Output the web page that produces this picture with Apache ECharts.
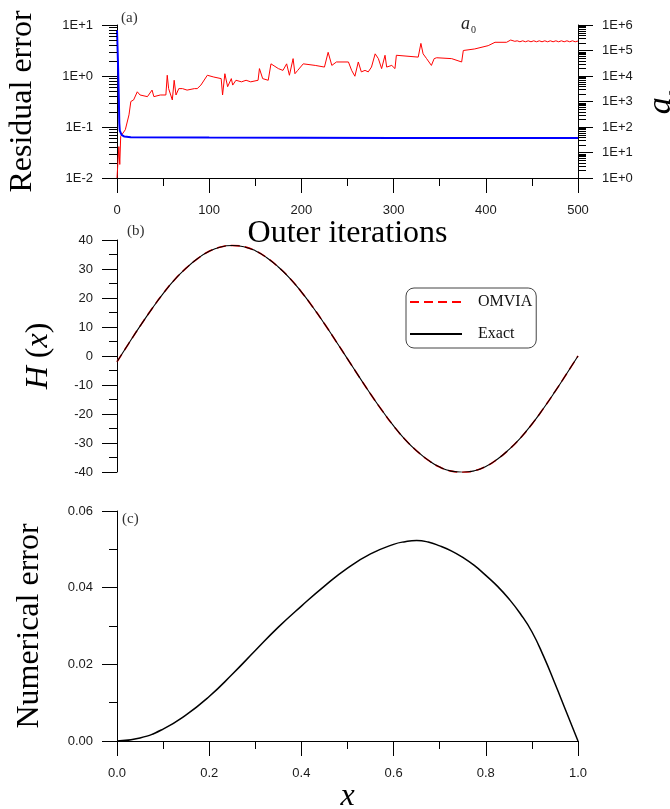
<!DOCTYPE html>
<html>
<head>
<meta charset="utf-8">
<script src="https://cdn.jsdelivr.net/npm/echarts@6/dist/echarts.min.js"></script>
<style>
html, body { margin: 0; padding: 0; background: #fff; }
#main { width: 670px; height: 809px; }
</style>
</head>
<body>
<div id="main"></div>
<script>
// panel (a): residual error (left axis) and a0 (right axis) vs outer iterations
const residualIter = [0, 1, 2, 2.5, 3, 5, 8, 15, 100, 300, 500];
const residualValue = [8, 2.0, 0.35, 0.12, 0.085, 0.07, 0.065, 0.063, 0.062, 0.061, 0.061];

const a0Iter = [0, 2, 3, 4, 6.5, 9, 11, 13, 15, 18, 22, 25, 33, 38, 40, 47, 53, 54.5, 56, 60,
  62, 64, 67, 71, 76, 84, 87, 91, 98, 105, 113, 114.5, 117, 120, 124, 125.5, 129, 135, 140, 145,
  153, 154.5, 158, 164, 167, 175, 180, 184, 187, 191, 193, 196, 202, 215, 225, 229, 233, 238, 251, 254.5,
  258, 261.7, 265, 269, 272.5, 276, 280, 283.5, 287, 290.7, 292.5, 298, 301.5, 303, 326.7, 329.6, 332, 335.8, 341, 344,
  346.7, 363, 373.8, 375.6, 377, 388, 402.6, 410, 422.5, 424.3, 427, 431.5,
  434, 437, 440, 443, 446, 449, 452, 455, 458, 461, 464, 467, 470, 473, 476, 479, 482, 485, 488, 491, 494, 497, 500];
const a0Value = [1, 17, 3.4, 43, 58, 78, 91, 300, 1000, 1150, 2400, 1800, 1550, 2800, 1550, 1800, 1800, 10700, 3200, 1150,
  6800, 1800, 3200, 3200, 2800, 3200, 3200, 4400, 10700, 9100, 7900, 1800, 12300, 3800, 7900, 4400, 6800, 5900, 6800, 5900,
  6800, 19500, 7900, 6800, 30000, 19500, 16600, 30000, 10700, 48000, 12300, 16600, 30000, 26000, 22400, 85000, 26000, 35500, 35500, 16600,
  9800, 35500, 14500, 16600, 14500, 22400, 74000, 48000, 19500, 65000, 22400, 26000, 19500, 65000, 55000, 190000, 74000, 48000, 26000, 48000,
  52000, 48000, 35500, 100000, 100000, 115000, 155000, 210000, 210000, 180000, 257000, 229000,
  240000, 220000, 240000, 220000, 240000, 220000, 240000, 220000, 240000, 220000, 240000, 220000, 240000, 220000, 240000, 220000,
  240000, 220000, 240000, 220000, 240000, 220000, 235000];

// panel (b): H(x)
const hX = [0, 0.025, 0.05, 0.075, 0.1, 0.125, 0.15, 0.175, 0.2, 0.225, 0.25, 0.275, 0.3, 0.325, 0.35, 0.375, 0.4, 0.425, 0.45, 0.475,
  0.5, 0.525, 0.55, 0.575, 0.6, 0.625, 0.65, 0.675, 0.7, 0.725, 0.75, 0.775, 0.8, 0.825, 0.85, 0.875, 0.9, 0.925, 0.95, 0.975, 1.0];
const hOmvia = [-2.0, 4.2, 10.3, 16.1, 21.5, 26.3, 30.3, 33.6, 36.1, 37.6, 38.1, 37.7, 36.3, 33.9, 30.7, 26.8, 22.1, 16.8, 11.1, 5.1,
  -1.0, -7.1, -13.1, -18.8, -24.1, -28.8, -32.7, -35.9, -38.3, -39.7, -40.1, -39.6, -38.1, -35.6, -32.3, -28.3, -23.5, -18.1, -12.3, -6.2, 0];
const hExact = [-2.0, 4.2, 10.3, 16.1, 21.5, 26.3, 30.3, 33.6, 36.1, 37.6, 38.1, 37.7, 36.3, 33.9, 30.7, 26.8, 22.1, 16.8, 11.1, 5.1,
  -1.0, -7.1, -13.1, -18.8, -24.1, -28.8, -32.7, -35.9, -38.3, -39.7, -40.1, -39.6, -38.1, -35.6, -32.3, -28.3, -23.5, -18.1, -12.3, -6.2, 0];

// panel (c): numerical error
const errX = [0, 0.05, 0.1, 0.15, 0.2, 0.25, 0.3, 0.35, 0.4, 0.45, 0.5, 0.55, 0.6, 0.625, 0.65, 0.675,
  0.7, 0.725, 0.75, 0.775, 0.8, 0.825, 0.85, 0.875, 0.9, 0.925, 0.95, 0.975, 1.0];
const errValue = [0, 0.0008, 0.0031, 0.0068, 0.0116, 0.0174, 0.0236, 0.0297, 0.0352, 0.0404, 0.0451, 0.0488, 0.0513, 0.052, 0.0523, 0.0519,
  0.0509, 0.0496, 0.0479, 0.0458, 0.0432, 0.0404, 0.0371, 0.0332, 0.0285, 0.0222, 0.015, 0.0075, 0];

const SERIF = 'Liberation Serif';
const SANS = 'Liberation Sans';
const BLACK = { color: '#000', width: 1 };
const tickLabel = { fontFamily: SANS, fontSize: 13, color: '#1a1a1a' };

function logLabel(v) {
  return '1E' + (v < 0 ? '-' : '+') + Math.abs(v);
}
// 2..9 positions inside every decade, in log10 units
function minorLogTicks(from, to) {
  const out = [];
  for (let n = from; n < to; n++) {
    for (let k = 2; k <= 9; k++) out.push(n + Math.log10(k));
  }
  return out;
}

const myChart = echarts.init(document.getElementById('main'));

const labels = [
  { type: 'text', left: 121, top: 11, style: { text: '(a)', font: '15px "Liberation Serif"', fill: '#333' } },
  { type: 'text', left: 127, top: 224, style: { text: '(b)', font: '15px "Liberation Serif"', fill: '#333' } },
  { type: 'text', left: 122, top: 512, style: { text: '(c)', font: '15px "Liberation Serif"', fill: '#333' } },
  { type: 'text', left: 461, top: 15, style: { text: 'a', font: 'italic 18px "Liberation Serif"', fill: '#222' } },
  { type: 'text', left: 471, top: 25, style: { text: '0', font: '10px "Liberation Serif"', fill: '#222' } }
];

const option = {
  animation: false,
  backgroundColor: '#fff',
  grid: [
    { left: 117, top: 25, width: 461, height: 153, containLabel: false, outerBoundsMode: 'none' },
    { left: 117, top: 240, width: 461, height: 232, containLabel: false, outerBoundsMode: 'none' },
    { left: 117, top: 511, width: 461, height: 230, containLabel: false, outerBoundsMode: 'none' }
  ],
  legend: {
    data: ['OMVIA', 'Exact'],
    orient: 'vertical',
    left: 406, top: 288,
    itemWidth: 52, itemHeight: 14, itemGap: 16,
    padding: [6, 4, 6, 3],
    borderColor: '#444', borderWidth: 1, borderRadius: 8,
    itemStyle: { opacity: 0 },
    textStyle: { fontFamily: SERIF, fontSize: 16, color: '#111', padding: [0, 0, 0, 11] }
  },
  xAxis: [
    {
      gridIndex: 0, type: 'value', min: 0, max: 500, interval: 100,
      axisLine: { onZero: false, lineStyle: BLACK },
      axisTick: { length: 15, lineStyle: BLACK },
      minorTick: { show: true, splitNumber: 2, length: 8, lineStyle: BLACK },
      axisLabel: Object.assign({ margin: 26 }, tickLabel),
      splitLine: { show: false },
      name: 'Outer iterations', nameLocation: 'middle', nameGap: 39,
      nameTextStyle: { fontFamily: SERIF, fontSize: 32, color: '#000' }
    },
    { gridIndex: 1, type: 'value', min: 0, max: 1, show: false },
    {
      gridIndex: 2, type: 'value', min: 0, max: 1, interval: 0.2,
      axisLine: { onZero: false, lineStyle: BLACK },
      axisTick: { length: 15, lineStyle: BLACK },
      minorTick: { show: true, splitNumber: 2, length: 8, lineStyle: BLACK },
      axisLabel: Object.assign({ margin: 26, formatter: v => v.toFixed(1) }, tickLabel),
      splitLine: { show: false },
      name: 'x', nameLocation: 'middle', nameGap: 36,
      nameTextStyle: { fontFamily: SERIF, fontSize: 32, fontStyle: 'italic', color: '#000' }
    }
  ],
  yAxis: [
    {
      gridIndex: 0, type: 'value', position: 'left', min: -2, max: 1, interval: 1,
      axisLine: { onZero: false, lineStyle: BLACK },
      axisTick: { length: 15, lineStyle: BLACK },
      axisLabel: Object.assign({ margin: 24, formatter: logLabel }, tickLabel),
      splitLine: { show: false },
      name: 'Residual error', nameLocation: 'middle', nameGap: 78,
      nameTextStyle: { fontFamily: SERIF, fontSize: 32, color: '#000' }
    },
    {
      gridIndex: 0, type: 'value', position: 'right', min: 0, max: 6, interval: 1,
      axisLine: { show: true, onZero: false, lineStyle: BLACK },
      axisTick: { length: 15, lineStyle: BLACK },
      axisLabel: Object.assign({ margin: 24, formatter: logLabel }, tickLabel),
      splitLine: { show: false },
      name: '{i|a}{s|0}', nameLocation: 'middle', nameGap: 60,
      nameTextStyle: {
        color: '#000',
        rich: {
          i: { fontFamily: SERIF, fontStyle: 'italic', fontSize: 34, lineHeight: 40, verticalAlign: 'top', color: '#000' },
          s: { fontFamily: SERIF, fontSize: 17, verticalAlign: 'bottom', color: '#000' }
        }
      }
    },
    {
      gridIndex: 1, type: 'value', min: -40, max: 40, interval: 10,
      axisLine: { show: true, onZero: false, lineStyle: BLACK },
      axisTick: { length: 15, lineStyle: BLACK },
      minorTick: { show: true, splitNumber: 2, length: 8, lineStyle: BLACK },
      axisLabel: Object.assign({ margin: 24 }, tickLabel),
      splitLine: { show: false },
      name: '{i|H} ({i|x})', nameLocation: 'middle', nameGap: 62,
      nameTextStyle: {
        fontFamily: SERIF, fontSize: 32, color: '#000',
        rich: { i: { fontFamily: SERIF, fontStyle: 'italic', fontSize: 32, color: '#000' } }
      }
    },
    {
      gridIndex: 2, type: 'value', min: 0, max: 0.06, interval: 0.02,
      axisLine: { show: true, onZero: false, lineStyle: BLACK },
      axisTick: { length: 15, lineStyle: BLACK },
      minorTick: { show: true, splitNumber: 2, length: 8, lineStyle: BLACK },
      axisLabel: Object.assign({ margin: 24, formatter: v => v.toFixed(2) }, tickLabel),
      splitLine: { show: false },
      name: 'Numerical error', nameLocation: 'middle', nameGap: 71,
      nameTextStyle: { fontFamily: SERIF, fontSize: 32, color: '#000' }
    }
  ],
  graphic: labels,
  series: [
    {
      name: 'a0', type: 'line', xAxisIndex: 0, yAxisIndex: 1,
      data: a0Iter.map((x, i) => [x, Math.log10(a0Value[i])]),
      symbol: 'none', lineStyle: { color: '#ff0000', width: 1 }, z: 2
    },
    {
      name: 'Residual', type: 'line', xAxisIndex: 0, yAxisIndex: 0,
      data: residualIter.map((x, i) => [x, Math.log10(residualValue[i])]),
      symbol: 'none', lineStyle: { color: '#0000ff', width: 2 }, z: 3
    },
    {
      name: 'OMVIA', type: 'line', xAxisIndex: 1, yAxisIndex: 2,
      data: hX.map((x, i) => [x, hOmvia[i]]),
      symbol: 'none', smooth: true, itemStyle: { color: '#ff0000' },
      lineStyle: { color: '#ff0000', width: 1.6, type: [9, 5] }, z: 2
    },
    {
      name: 'Exact', type: 'line', xAxisIndex: 1, yAxisIndex: 2,
      data: hX.map((x, i) => [x, hExact[i]]),
      symbol: 'none', smooth: true, itemStyle: { color: '#000' },
      lineStyle: { color: '#000', width: 1.1 }, z: 3
    },
    {
      name: 'Error', type: 'line', xAxisIndex: 2, yAxisIndex: 3,
      data: errX.map((x, i) => [x, errValue[i]]),
      symbol: 'none', smooth: true,
      lineStyle: { color: '#000', width: 1.5 }
    }
  ]
};
myChart.setOption(option);

// log-style minor ticks of panel (a), placed through the axes' own scales
const minorTicks = [];
const xLeft = myChart.convertToPixel({ xAxisIndex: 0 }, 0);
const xRight = myChart.convertToPixel({ xAxisIndex: 0 }, 500);
minorLogTicks(-2, 1).forEach(v => {
  const y = Math.round(myChart.convertToPixel({ yAxisIndex: 0 }, v)) + 0.5;
  minorTicks.push({ type: 'line', silent: true, z: 10, shape: { x1: xLeft - 8, y1: y, x2: xLeft, y2: y }, style: { stroke: '#000', lineWidth: 1 } });
});
minorLogTicks(0, 6).forEach(v => {
  const y = Math.round(myChart.convertToPixel({ yAxisIndex: 1 }, v)) + 0.5;
  minorTicks.push({ type: 'line', silent: true, z: 10, shape: { x1: xRight, y1: y, x2: xRight + 8, y2: y }, style: { stroke: '#000', lineWidth: 1 } });
});
myChart.setOption({ graphic: labels.concat(minorTicks) });
</script>
</body>
</html>
